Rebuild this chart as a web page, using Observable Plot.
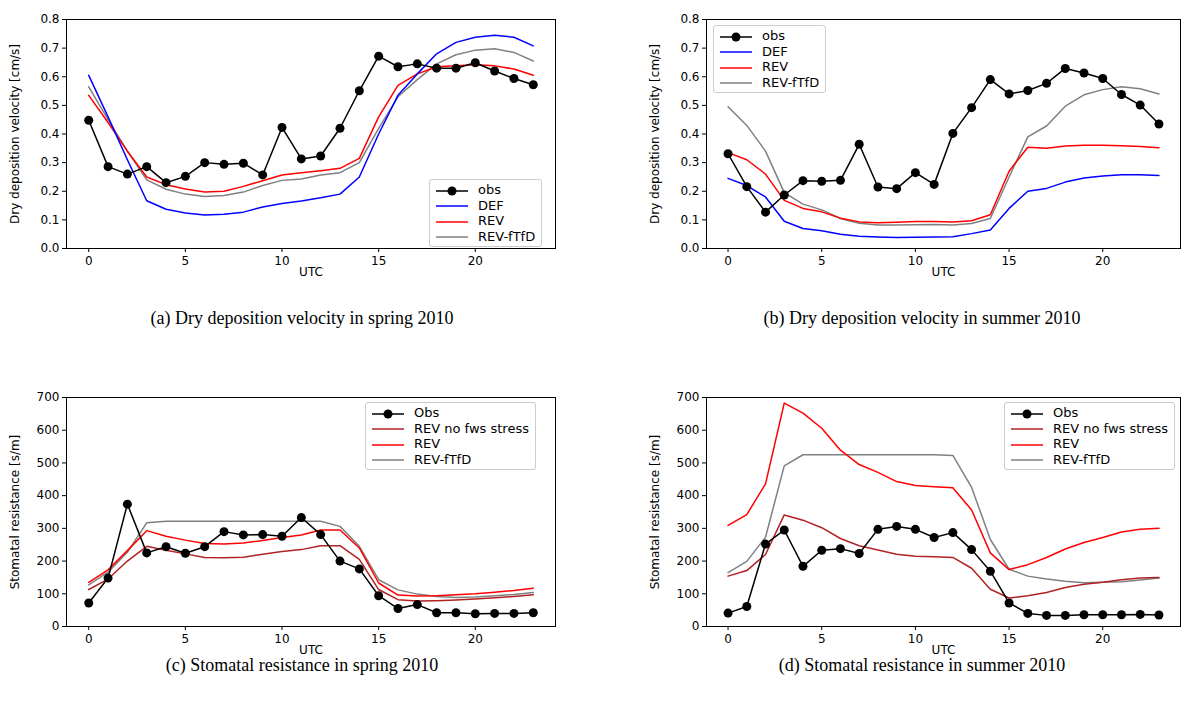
<!DOCTYPE html>
<html><head><meta charset="utf-8">
<script src="https://cdn.jsdelivr.net/npm/d3@7"></script>
<script src="https://cdn.jsdelivr.net/npm/@observablehq/plot@0.6"></script>
<style>
body{margin:0;width:1182px;height:703px;overflow:hidden;background:#fff;position:relative;font-family:"DejaVu Sans",sans-serif}
.p{position:absolute}
.cap{position:absolute;font-family:"Liberation Serif",serif;font-size:18px;line-height:18px;width:560px;text-align:center}
.leg{position:absolute;border:1px solid #ccc;border-radius:3px;background:rgba(255,255,255,0.85);font-size:13px;padding:2px 6px 2px 6px;white-space:nowrap}
.leg div{height:15.5px;line-height:15.5px}
.leg svg{vertical-align:middle;margin-right:10px}
</style></head><body>
<script>
const hours = d3.range(24);
// (a) spring Vd
const aObs = [0.448,0.286,0.26,0.286,0.23,0.252,0.30,0.294,0.298,0.257,0.423,0.313,0.323,0.42,0.551,0.672,0.635,0.645,0.63,0.63,0.649,0.62,0.594,0.572];
const aDEF = [0.605,0.46,0.31,0.167,0.137,0.124,0.117,0.12,0.127,0.145,0.157,0.166,0.177,0.19,0.25,0.40,0.535,0.61,0.68,0.72,0.738,0.745,0.738,0.708];
const aREV = [0.535,0.44,0.34,0.25,0.223,0.208,0.197,0.2,0.217,0.237,0.257,0.265,0.272,0.28,0.315,0.46,0.57,0.61,0.635,0.638,0.642,0.638,0.627,0.605];
const aFT = [0.565,0.45,0.34,0.24,0.207,0.19,0.182,0.185,0.197,0.22,0.238,0.243,0.257,0.265,0.3,0.42,0.53,0.59,0.645,0.677,0.693,0.698,0.685,0.655];
// (b) summer Vd
const bObs = [0.331,0.216,0.127,0.187,0.237,0.235,0.238,0.364,0.215,0.209,0.265,0.224,0.402,0.492,0.59,0.54,0.552,0.577,0.629,0.613,0.594,0.538,0.501,0.435];
const bDEF = [0.245,0.22,0.18,0.095,0.07,0.062,0.05,0.043,0.04,0.038,0.039,0.04,0.041,0.052,0.065,0.14,0.2,0.21,0.232,0.246,0.253,0.258,0.258,0.255];
const bREV = [0.335,0.31,0.26,0.168,0.14,0.128,0.106,0.093,0.09,0.092,0.094,0.094,0.093,0.097,0.118,0.27,0.354,0.35,0.358,0.361,0.361,0.359,0.356,0.352];
const bFT = [0.495,0.43,0.34,0.195,0.155,0.135,0.105,0.088,0.082,0.082,0.083,0.084,0.082,0.087,0.105,0.25,0.39,0.428,0.497,0.537,0.555,0.565,0.558,0.54];
// (c) spring Rs
const cObs = [72,148,374,225,244,224,244,290,280,281,276,333,281,200,176,94,55,67,42,42,39,40,40,42];
const cNoF = [113,145,200,245,233,222,211,210,212,221,229,235,247,247,205,113,82,78,79,81,84,88,92,97];
const cREV = [135,173,232,293,276,264,254,252,255,263,272,280,295,295,240,133,96,93,94,97,100,105,110,117];
const cFT = [127,166,227,317,322,322,322,322,322,322,322,322,322,306,245,143,112,99,92,89,90,94,98,104];
// (d) summer Rs
const dObs = [41,61,252,295,184,233,238,223,297,306,297,272,287,235,169,72,40,34,34,36,36,36,37,35];
const dNoF = [154,171,220,341,325,302,269,247,234,221,215,213,211,178,114,87,94,104,119,129,135,143,148,150];
const dREV = [309,342,436,683,652,606,539,495,471,443,431,427,424,356,225,174,189,211,237,257,272,289,297,300];
const dFT = [165,199,273,491,525,525,525,525,525,525,525,525,523,425,266,175,154,145,138,134,135,137,142,148];

const vdNames = ["obs","DEF","REV","REV-fTfD"];
const rsNames = ["Obs","REV no fws stress","REV","REV-fTfD"];
const vdColors = ["#000","#0000ff","#ff0000","#808080"];
const rsColors = ["#000","#b22222","#ff0000","#808080"];

function panel(left, top, width, series, colors, names, yDomain, yTicks, yFmt, yLabel, legendPos){
  const rows = [];
  series.forEach((s,i)=>s.forEach((v,h)=>rows.push({h, v, k:names[i], c:colors[i]})));
  const marks = [Plot.frame({stroke:"#000", strokeWidth:1})];
  for (let i=series.length-1;i>=0;i--){
    marks.push(Plot.line(rows.filter(r=>r.k===names[i]), {x:"h", y:"v", stroke:colors[i], strokeWidth:1.5}));
  }
  marks.push(Plot.dot(rows.filter(r=>r.k===names[0]), {x:"h", y:"v", r:4.5, fill:"#000"}));
  const svg = Plot.plot({
    width, height:290, marginLeft:66, marginTop:19, marginBottom:42, marginRight: 2,
    style:{fontFamily:"DejaVu Sans", fontSize:"12px", color:"#000", background:"transparent"},
    x:{domain:[-1.15,24.15], ticks:[0,5,10,15,20], tickSize:4, label:"UTC", labelArrow:"none", labelAnchor:"center", labelOffset:27, tickPadding:4},
    y:{domain:yDomain, ticks:yTicks, tickFormat:yFmt, tickSize:4, label:yLabel, labelArrow:"none", labelAnchor:"center", labelOffset:56, tickPadding:3},
    marks
  });
  svg.classList.add("p");
  svg.style.left=left+"px"; svg.style.top=top+"px";
  document.body.appendChild(svg);
  const leg = document.createElement("div");
  leg.className="leg"; leg.style.left=legendPos[0]+"px"; leg.style.top=legendPos[1]+"px";
  names.forEach((n,i)=>{
    const row=document.createElement("div");
    row.innerHTML=`<svg width="32" height="10"><line x1="0" y1="5" x2="32" y2="5" stroke="${colors[i]}" stroke-width="1.5"/>${i===0?'<circle cx="16" cy="5" r="4.5" fill="#000"/>':''}</svg>${n}`;
    leg.appendChild(row);
  });
  document.body.appendChild(leg);
}
const f1 = d3.format(".1f");
panel(0,0,557,[aObs,aDEF,aREV,aFT],vdColors,vdNames,[0,0.8],d3.range(0,0.81,0.1),f1,"Dry deposition velocity [cm/s]",[429,179]);
panel(640,0,542,[bObs,bDEF,bREV,bFT],vdColors,vdNames,[0,0.8],d3.range(0,0.81,0.1),f1,"Dry deposition velocity [cm/s]",[713,25]);
panel(0,378,557,[cObs,cNoF,cREV,cFT],rsColors,rsNames,[0,700],d3.range(0,701,100),d3.format("d"),"Stomatal resistance [s/m]",[365,402]);
panel(640,378,542,[dObs,dNoF,dREV,dFT],rsColors,rsNames,[0,700],d3.range(0,701,100),d3.format("d"),"Stomatal resistance [s/m]",[1004,402]);

const caps=[["(a) Dry deposition velocity in spring 2010",22,309],["(b) Dry deposition velocity in summer 2010",642,309],["(c) Stomatal resistance in spring 2010",22,656],["(d) Stomatal resistance in summer 2010",642,656]];
caps.forEach(([t,l,tp])=>{const d=document.createElement("div");d.className="cap";d.style.left=l+"px";d.style.top=tp+"px";d.textContent=t;document.body.appendChild(d);});
</script>
</body></html>
